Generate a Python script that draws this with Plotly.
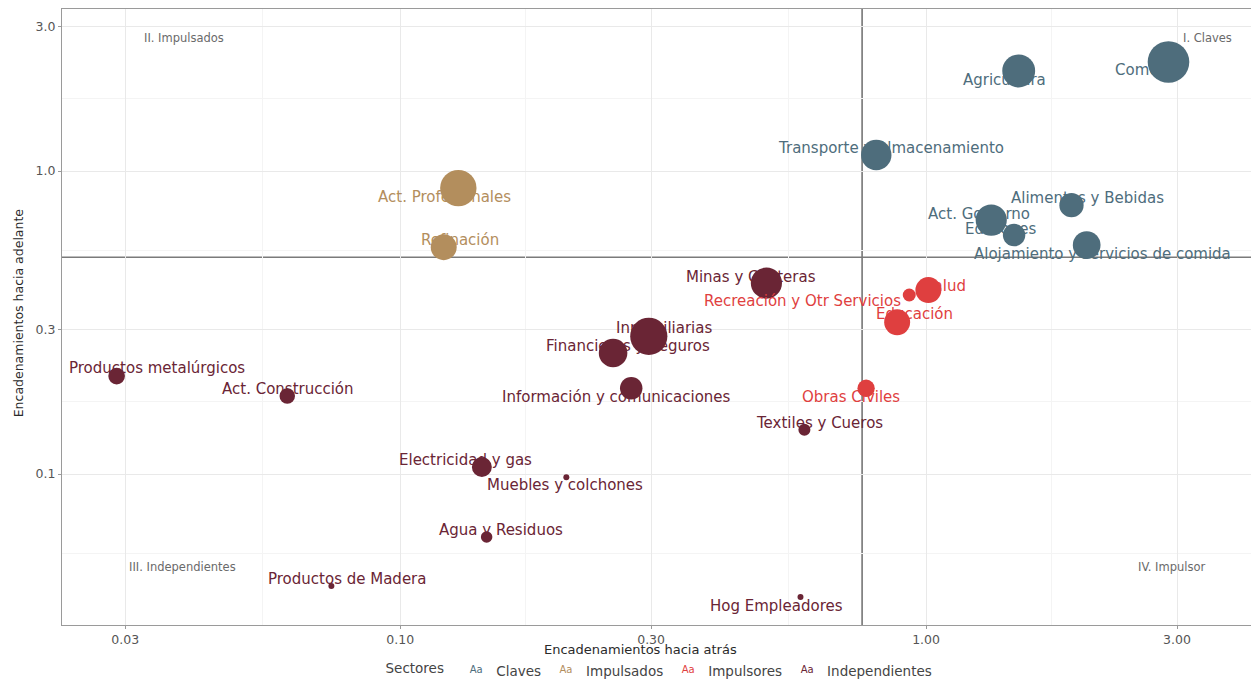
import numpy as np
import plotly.graph_objects as go

# ---------------- data ----------------
sectores = [
    "Comercio", "Agricultura", "Transporte y Almacenamiento", "Alimentos y Bebidas",
    "Act. Gobierno", "Ediciones", "Alojamiento y servicios de comida",
    "Act. Profesionales", "Refinación",
    "Salud", "Recreación y Otr Servicios", "Educación", "Obras Civiles",
    "Minas y Canteras", "Inmobiliarias", "Financieras y Seguros",
    "Información y comunicaciones", "Textiles y Cueros", "Productos metalúrgicos",
    "Act. Construcción", "Electricidad y gas", "Muebles y colchones",
    "Agua y Residuos", "Productos de Madera", "Hog Empleadores",
]
grupo = [
    "Claves", "Claves", "Claves", "Claves", "Claves", "Claves", "Claves",
    "Impulsados", "Impulsados",
    "Impulsores", "Impulsores", "Impulsores", "Impulsores",
    "Independientes", "Independientes", "Independientes", "Independientes",
    "Independientes", "Independientes", "Independientes", "Independientes",
    "Independientes", "Independientes", "Independientes", "Independientes",
]
enc_atras = [2.89, 1.50, 0.804, 1.89, 1.33, 1.47, 2.02,
             0.129, 0.121,
             1.01, 0.929, 0.881, 0.769,
             0.497, 0.297, 0.254, 0.275, 0.587, 0.0289, 0.0610, 0.143,
             0.207, 0.146, 0.0740, 0.577]
enc_adelante = [2.29, 2.14, 1.13, 0.772, 0.689, 0.615, 0.570,
                0.879, 0.561,
                0.405, 0.390, 0.317, 0.192,
                0.427, 0.285, 0.251, 0.192, 0.140, 0.2106, 0.181, 0.1055,
                0.0977, 0.0620, 0.0427, 0.0393]
peso = [14.4, 9.0, 7.7, 4.9, 8.1, 4.2, 6.4,
        11.0, 5.6,
        5.6, 1.4, 5.6, 2.5,
        8.1, 11.5, 6.8, 4.2, 1.2, 2.3, 2.0, 3.3,
        0.1, 1.1, 0.2, 0.2]

grupos = ["Claves", "Impulsados", "Impulsores", "Independientes"]
x_ticks = [0.03, 0.1, 0.3, 1, 3]
x_ticktext = ["0.03", "0.10", "0.30", "1.00", "3.00"]
y_ticks = [0.1, 0.3, 1, 3]
y_ticktext = ["0.1", "0.3", "1.0", "3.0"]
cuadrantes = ["II. Impulsados", "I. Claves", "III. Independientes", "IV. Impulsor"]

# ---------------- style ----------------
col_punto = {"Claves": "#4E6D7C", "Impulsados": "#B38E5D",
             "Impulsores": "#DF3F3F", "Independientes": "#6A2535"}
# label offsets in pixels (dx right, dy down) relative to each point
lab_off = [(-18, 8), (-14, 9), (15, -7), (16, -7), (-12, -6), (-14, -6), (16, 9),
           (-14, 9), (16, -7),
           (17, -4), (-107, 6), (17, -8), (-15, 9),
           (-15, -6), (15, -8), (15, -7), (-15, 9), (15, -7), (40, -8),
           (1, -7), (-16, -7), (-1, 8), (14, -7), (16, -7), (-24, 9)]
quad_pos = [(0.102, 0.953), (0.957, 0.953), (0.101, 0.094), (0.927, 0.094)]
FONT = "DejaVu Sans"

# page body has an 8px margin; size the figure so the plot area lands where it should
W, H = 1251, 671
ML, MR, MT, MB = 54, 0, 1, 54

fig = go.Figure()

max_d = 41.6
sizeref = 2.0 * max(peso) / max_d ** 2

for g in grupos:
    idx = [i for i, gg in enumerate(grupo) if gg == g]
    fig.add_trace(go.Scatter(
        x=[enc_atras[i] for i in idx],
        y=[enc_adelante[i] for i in idx],
        mode="markers",
        marker=dict(size=[peso[i] for i in idx], sizemode="area", sizeref=sizeref,
                    sizemin=3, color=col_punto[g], opacity=1, line=dict(width=0)),
        text=[sectores[i] for i in idx],
        hoverinfo="text",
        showlegend=False,
    ))

# legend entries (text keys like ggplot)
for g in grupos:
    fig.add_trace(go.Scatter(
        x=[None], y=[None], mode="text", text=["a"],
        textfont=dict(color=col_punto[g], size=10, family=FONT),
        name=g, showlegend=True,
    ))

shapes = []
mx = float(np.mean(enc_atras))
my = float(np.mean(enc_adelante))
shapes.append(dict(type="line", xref="x", yref="paper", x0=mx, x1=mx, y0=0, y1=1,
                   line=dict(color="#555555", width=1.3), layer="between"))
shapes.append(dict(type="line", xref="paper", yref="y", x0=0, x1=1, y0=my, y1=my,
                   line=dict(color="#7a7a7a", width=1.6), layer="between"))

annotations = []
for i, s in enumerate(sectores):
    dx, dy = lab_off[i]
    annotations.append(dict(
        text=s, x=float(np.log10(enc_atras[i])), y=float(np.log10(enc_adelante[i])),
        xref="x", yref="y", showarrow=False, xanchor="center", yanchor="middle",
        xshift=dx, yshift=-dy,
        font=dict(family=FONT, size=15, color=col_punto[grupo[i]]),
    ))
for t, (px, py) in zip(cuadrantes, quad_pos):
    annotations.append(dict(text=t, x=px, y=py, xref="paper", yref="paper",
                            showarrow=False, xanchor="center", yanchor="middle",
                            font=dict(family=FONT, size=11.5, color="#6a6a6a")))
annotations.append(dict(text="Encadenamientos hacia atrás", x=0.483, y=0,
                        xref="paper", yref="paper", showarrow=False,
                        xanchor="center", yanchor="middle", yshift=-24,
                        font=dict(family=FONT, size=13, color="#2a2a2a")))
annotations.append(dict(text="Encadenamientos hacia adelante", x=0, y=0.506,
                        xref="paper", yref="paper", showarrow=False, textangle=-90,
                        xanchor="center", yanchor="middle", xshift=-44,
                        font=dict(family=FONT, size=12.5, color="#2a2a2a")))

x_minor = [float(np.sqrt(a * b)) for a, b in zip(x_ticks[:-1], x_ticks[1:])]
y_minor = [0.0548] + [float(np.sqrt(a * b)) for a, b in zip(y_ticks[:-1], y_ticks[1:])]

fig.update_layout(
    width=W, height=H,
    margin=dict(l=ML, r=MR, t=MT, b=MB, autoexpand=False),
    paper_bgcolor="white", plot_bgcolor="white",
    shapes=shapes, annotations=annotations,
    font=dict(family=FONT),
    legend=dict(orientation="h", x=0.5, xanchor="center", y=-0.075, yanchor="middle",
                title=dict(text="Sectores ", font=dict(family=FONT, size=13.5, color="#444444")),
                font=dict(family=FONT, size=13.5, color="#444444"),
                itemwidth=30, bgcolor="rgba(0,0,0,0)"),
    xaxis=dict(type="log", range=[-1.643, 0.633],
               tickvals=x_ticks, ticktext=x_ticktext,
               showgrid=True, gridcolor="#e9e9e9", gridwidth=1,
               minor=dict(tickvals=x_minor, showgrid=True, gridcolor="#f4f4f4", ticks=""),
               showline=True, linecolor="#9a9a9a", linewidth=1.2, mirror=True,
               ticks="outside", ticklen=3, tickcolor="#9a9a9a",
               tickfont=dict(family=FONT, size=12.5, color="#555555"),
               zeroline=False),
    yaxis=dict(type="log", range=[-1.498, 0.535],
               tickvals=y_ticks, ticktext=y_ticktext,
               showgrid=True, gridcolor="#e9e9e9", gridwidth=1,
               minor=dict(tickvals=y_minor, showgrid=True, gridcolor="#f4f4f4", ticks=""),
               showline=True, linecolor="#9a9a9a", linewidth=1.2, mirror=False,
               ticks="outside", ticklen=3, tickcolor="#9a9a9a",
               tickfont=dict(family=FONT, size=12.5, color="#555555"),
               zeroline=False),
)

fig.write_html("out.html")
